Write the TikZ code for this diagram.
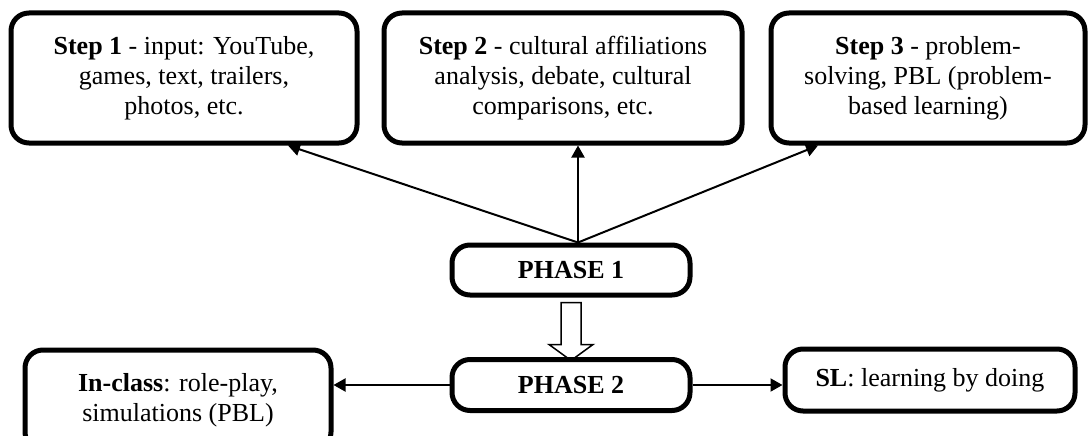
\documentclass[tikz,border=0pt]{standalone}
\usepackage{fontspec}
\setmainfont{Liberation Serif}
\usetikzlibrary{arrows.meta}
\begin{document}
\begin{tikzpicture}[x=1pt, y=-1pt, line width=2pt]
  \tikzstyle{boite}=[draw, line width=5pt, rounded corners=18pt, align=center, inner sep=0, font=\fontsize{26}{30}\selectfont];
  \tikzstyle{fleche}=[-{Triangle[length=12pt, width=13pt]}];
  \useasboundingbox (0,0) rectangle (1088,436);

  \node[boite, minimum width=346, minimum height=130] (E1) at (184, 78) {\textbf{Step 1} - input: YouTube,\\games, text, trailers,\\photos, etc.};
  \node[boite, minimum width=358, minimum height=130] (E2) at (563, 78) {\textbf{Step 2} - cultural affiliations\\analysis, debate, cultural\\comparisons, etc.};
  \node[boite, minimum width=314, minimum height=130] (E3) at (928, 78) {\textbf{Step 3} - problem-\\solving, PBL (problem-\\based learning)};
  \node[boite, minimum width=238, minimum height=50] (P1) at (571, 270) {\textbf{PHASE 1}};
  \node[boite, minimum width=238, minimum height=51] (P2) at (571, 385) {\textbf{PHASE 2}};
  \node[boite, minimum width=306, minimum height=100] (C1) at (178, 400) {\textbf{In-class}: role-play,\\simulations (PBL)};
  \node[boite, minimum width=290, minimum height=62] (SL) at (930, 380) {\textbf{SL}: learning by doing};

  \coordinate (hub) at ([xshift=7pt]P1.north);
  \draw[fleche] (hub) -- ([xshift=104pt]E1.south);
  \draw[fleche] (hub) -- (hub |- E2.south);
  \draw[fleche] (hub) -- ([xshift=-110pt]E3.south);

  % grosse fleche creuse
  \draw[line width=1.5pt] ([xshift=-10pt, yshift=-5pt]P1.south) -- ++(0,42) -- ++(-12,0) -- ++(22,16) -- ++(22,-16) -- ++(-12,0) -- ++(0,-42) -- cycle;

  \draw[fleche] (P2.west) -- (P2.west -| C1.east);
  \draw[fleche] (P2.east) -- (P2.east -| SL.west);
\end{tikzpicture}
\end{document}
